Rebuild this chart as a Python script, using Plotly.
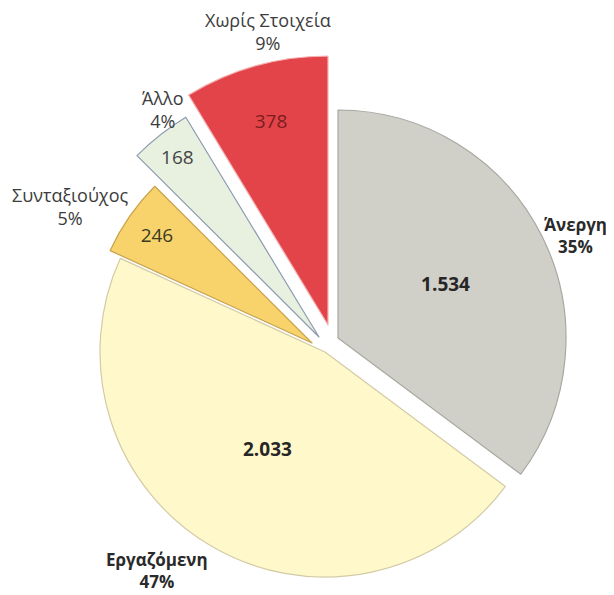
import math
import plotly.graph_objects as go

# data
categories = ["Άνεργη", "Εργαζόμενη", "Συνταξιούχος", "Άλλο", "Χωρίς Στοιχεία"]
counts = [1534, 2033, 246, 168, 378]
percent_labels = ["35%", "47%", "5%", "4%", "9%"]

# styling / layout (pixel values are in page coordinates; the page body has an 8px margin)
PAGE_OFFSET = 8
W, H = 606, 587
CENTER = (331, 342)           # common pie centre
FONT = "Open Sans, Noto Sans, sans-serif"
slice_colors = ["#D0D0C9", "#FFF8CA", "#F8D36C", "#E8F0E0", "#E3444A"]
edge_colors = ["#A8A8A2", "#D2CBA6", "#C8A24E", "#8D9BB0", "#F3B3B3"]
radius_px = [228, 225, 222, 257, 269]
explode_xy = [(7, -4), (-6, 10), (-19, 1), (-12, -5), (-3, -17)]
value_bold = [True, True, False, False, False]
value_colors = ["#262626", "#262626", "#3B3A22", "#454545", "#7C1D1D"]
label_bold = [True, True, False, False, False]
label_size = [17, 17, 18, 18, 18]
label_anchor = [("left", "middle"), ("right", "top"), ("right", "middle"),
                ("center", "bottom"), ("center", "bottom")]
label_shift = [(0, 0), (0, 0), (0, 10), (2, 0), (12, 9)]

CLEAR = "rgba(0,0,0,0)"


def to_paper_x(px):
    return (px - PAGE_OFFSET) / W


def to_paper_y(py):
    return 1 - (py - PAGE_OFFSET) / H


fig = go.Figure()
total = sum(counts)
start = 0.0
annotations = []
n = len(counts)

for i, cat in enumerate(categories):
    frac = counts[i] / total
    mid = (start + frac / 2) * 2 * math.pi   # clockwise from 12 o'clock
    start += frac
    ux, uy = math.sin(mid), -math.cos(mid)   # screen direction (y down)

    # exploded slice: the pie holding this slice is shifted away from the centre
    tx = CENTER[0] + explode_xy[i][0]
    ty = CENTER[1] + explode_xy[i][1]
    r = radius_px[i]
    dom = dict(
        x=[to_paper_x(tx - r), to_paper_x(tx + r)],
        y=[to_paper_y(ty + r), to_paper_y(ty - r)],
    )

    tmpl = "<b>%{value:,}</b>" if value_bold[i] else "%{value:,}"
    fig.add_trace(
        go.Pie(
            labels=categories,
            values=counts,
            sort=False,
            direction="clockwise",
            rotation=0,
            domain=dom,
            marker=dict(
                colors=[slice_colors[j] if j == i else CLEAR for j in range(n)],
                line=dict(
                    color=[edge_colors[j] if j == i else CLEAR for j in range(n)],
                    width=[1.2 if j == i else 0 for j in range(n)],
                ),
            ),
            textposition=["inside" if j == i else "none" for j in range(n)],
            texttemplate=[tmpl if j == i else "" for j in range(n)],
            insidetextorientation="horizontal",
            textfont=dict(family=FONT, size=19, color=value_colors[i]),
            showlegend=False,
            hoverinfo="label+value+percent",
        )
    )

    # category label just outside the slice, on its bisector
    px = tx + r * ux
    py = ty + r * uy
    if label_bold[i]:
        txt = f"<b>{cat}</b><br><b>{percent_labels[i]}</b>"
    else:
        txt = f"{cat}<br>{percent_labels[i]}"
    annotations.append(
        dict(
            x=to_paper_x(px), y=to_paper_y(py), xref="paper", yref="paper",
            xanchor=label_anchor[i][0], yanchor=label_anchor[i][1],
            xshift=label_shift[i][0], yshift=label_shift[i][1],
            text=txt, showarrow=False, align="center",
            font=dict(family=FONT, size=label_size[i],
                      color="#2A2A2A" if label_bold[i] else "#3C3C3C"),
        )
    )

fig.update_layout(
    width=W,
    height=H,
    margin=dict(l=0, r=0, t=0, b=0),
    paper_bgcolor="white",
    plot_bgcolor="white",
    separators=",.",
    annotations=annotations,
)

fig.write_html("out.html")
